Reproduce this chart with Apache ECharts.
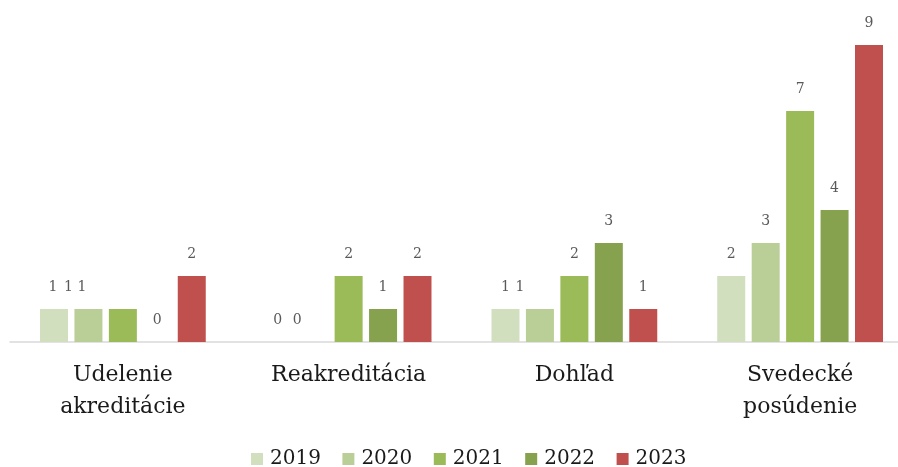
<!DOCTYPE html>
<html><head><meta charset="utf-8">
<script src="https://cdn.jsdelivr.net/npm/echarts@6/dist/echarts.min.js"></script>
<style>html,body{margin:0;padding:0;background:#fff}#c{width:898px;height:467px}</style>
</head><body><div id="c"></div>
<script>
const categories = ['Udelenie\nakreditácie', 'Reakreditácia', 'Dohľad', 'Svedecké\nposúdenie'];
const years = ['2019', '2020', '2021', '2022', '2023'];
const v2019 = [1, 0, 1, 2];
const v2020 = [1, 0, 1, 3];
const v2021 = [1, 2, 2, 7];
const v2022 = [0, 1, 3, 4];
const v2023 = [2, 2, 1, 9];
const colors = ['#d1dfbf', '#bacf97', '#9bbb59', '#86a24f', '#c0504d'];
const seriesValues = [v2019, v2020, v2021, v2022, v2023];
// label horizontal nudges (styling only) keyed "series,category"
const labelShift = { '0,0': -1, '1,0': -20, '2,0': -41, '0,1': -2, '1,1': -17, '1,2': -20 };
const FONT = 'DejaVu Serif';
const chart = echarts.init(document.getElementById('c'));
chart.setOption({
  animation: false,
  color: colors,
  grid: { left: 10, width: 903, top: 45, bottom: 125, containLabel: false, outerBoundsMode: 'none' },
  xAxis: {
    type: 'category', data: categories,
    axisLine: { lineStyle: { color: '#d9d9d9', width: 1.5 } },
    axisTick: { show: false },
    axisLabel: { fontFamily: FONT, fontSize: 22, color: '#1a1a1a', margin: 17, lineHeight: 32, interval: 0 }
  },
  yAxis: { type: 'value', min: 0, max: 9, show: false, splitLine: { show: false } },
  legend: {
    bottom: -7, left: 246, itemWidth: 12, itemHeight: 12, itemGap: 21.5,
    icon: 'rect',
    textStyle: { fontFamily: FONT, fontSize: 20, color: '#1a1a1a', padding: [0, 0, 6, 2] },
    data: years
  },
  series: seriesValues.map((vals, i) => ({
    name: years[i], type: 'bar', barWidth: 28, barGap: '23%',
    data: vals.map((v, j) => {
      const s = labelShift[i + ',' + j];
      return s === undefined ? v : { value: v, label: { offset: [s, 0] } };
    }),
    itemStyle: { color: colors[i] },
    label: { show: true, position: 'top', distance: 15, fontFamily: FONT, fontSize: 14, color: '#595959' }
  }))
});
</script></body></html>
